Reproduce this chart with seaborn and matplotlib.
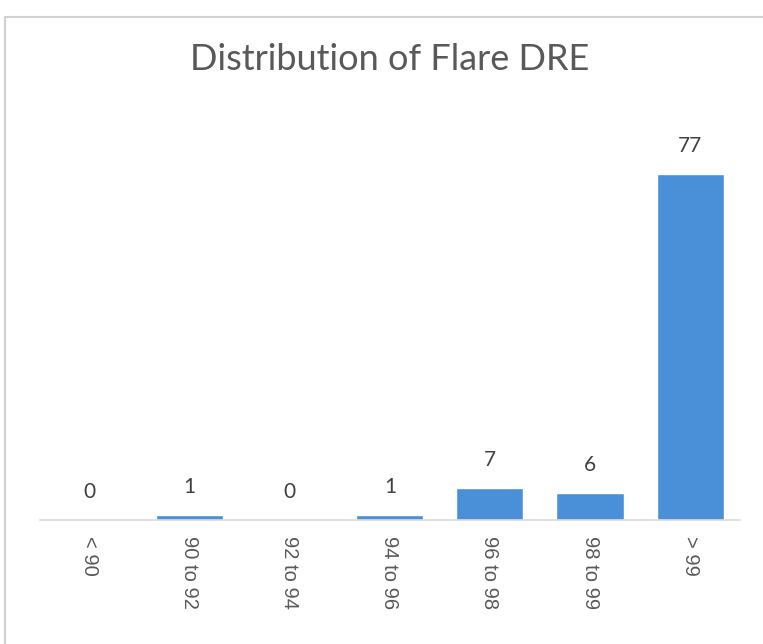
import matplotlib
matplotlib.use("Agg")
import matplotlib.pyplot as plt
import seaborn as sns
from matplotlib.patches import Rectangle

# data
dre_bins = ["< 90", "90 to 92", "92 to 94", "94 to 96", "96 to 98", "98 to 99", "> 99"]
flare_counts = [0, 1, 0, 1, 7, 6, 77]

sns.set_style("white")
plt.rcParams['font.family'] = ['Lato', 'DejaVu Sans']

fig = plt.figure(figsize=(7.63, 6.44), dpi=100)
ax = fig.add_axes([0.052, 0.193, 0.918, 0.628])

sns.barplot(x=dre_bins, y=flare_counts, color="#4a90d9", saturation=1,
            width=0.67, ax=ax)

ax.set_ylim(0, 90)
ax.set_xlim(-0.5, len(dre_bins) - 0.5)
ax.set_yticks([])
ax.set_xlabel("")
ax.set_ylabel("")
for side in ["top", "right", "left"]:
    ax.spines[side].set_visible(False)
ax.spines["bottom"].set_color("#d9d9d9")
ax.spines["bottom"].set_linewidth(1.2)
ax.tick_params(axis="x", length=0, pad=12, colors="#595959")
for lbl in ax.get_xticklabels():
    lbl.set_rotation(-90)
    lbl.set_va("top")
    lbl.set_ha("center")
    lbl.set_fontfamily(["Liberation Sans", "DejaVu Sans"])
    lbl.set_fontsize(14.5)

# data labels
for i, v in enumerate(flare_counts):
    ax.annotate(str(v), (i, v), xytext=(0, 20), textcoords="offset points",
                ha="center", va="center", fontsize=15, color="#404040")

fig.text(0.51, 0.908, "Distribution of Flare DRE", ha="center", va="center",
         fontsize=26, color="#595959")

# light chart frame
fig.patches.append(Rectangle((0.007, -0.01), 1.0, 0.983, transform=fig.transFigure,
                             fill=False, edgecolor="#d0d0d0", linewidth=1.5))

fig.savefig("out.png", dpi=100)
